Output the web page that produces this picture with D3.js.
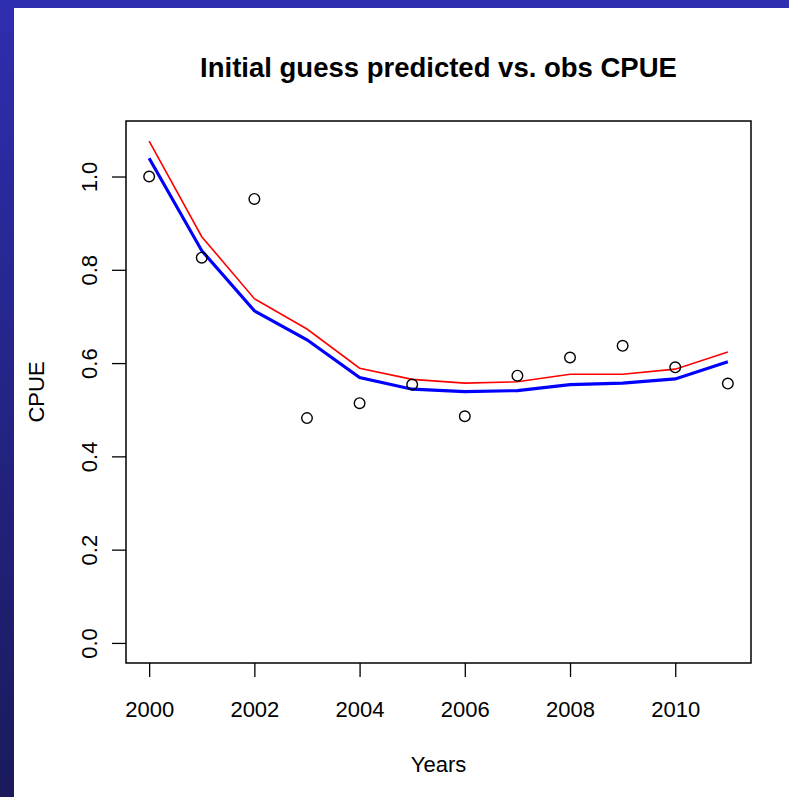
<!DOCTYPE html>
<html>
<head>
<meta charset="utf-8">
<script src="https://cdn.jsdelivr.net/npm/d3@7/dist/d3.min.js"></script>
<style>
  html, body { margin: 0; padding: 0; background: #fff; }
  svg { display: block; }
  text { font-family: "Liberation Sans", Arial, Helvetica, sans-serif; fill: #000; }
</style>
</head>
<body>
<svg id="chart" width="789" height="797"></svg>
<script>
// Observed and model-predicted CPUE by year
const years = [2000, 2001, 2002, 2003, 2004, 2005, 2006, 2007, 2008, 2009, 2010, 2011];
const observedCPUE = [1.000, 0.826, 0.952, 0.482, 0.514, 0.554, 0.486, 0.573, 0.612, 0.637, 0.591, 0.556];
const predictedBlue = [1.039, 0.841, 0.712, 0.650, 0.569, 0.544, 0.539, 0.541, 0.554, 0.557, 0.566, 0.603];
const predictedRed = [1.076, 0.871, 0.738, 0.673, 0.589, 0.565, 0.557, 0.560, 0.576, 0.576, 0.587, 0.624];
const xTicks = [2000, 2002, 2004, 2006, 2008, 2010];
const yTicks = [0.0, 0.2, 0.4, 0.6, 0.8, 1.0];

const W = 789, H = 797;
const svg = d3.select("#chart");

// Slide backdrop: blue gradient frame with a white panel
const defs = svg.append("defs");
const grad = defs.append("linearGradient").attr("id", "bg").attr("x1", 0).attr("y1", 0).attr("x2", 0).attr("y2", 1);
grad.append("stop").attr("offset", "0%").attr("stop-color", "#2e2eb0");
grad.append("stop").attr("offset", "100%").attr("stop-color", "#1a1a5c");
svg.append("rect").attr("width", W).attr("height", H).attr("fill", "url(#bg)");
svg.append("rect").attr("x", 14).attr("y", 8).attr("width", W - 14).attr("height", H - 8).attr("fill", "#fff");

// Plot region
const box = { left: 126, right: 751, top: 121, bottom: 663 };

// R-style 4% padding around the data range
const xMin = d3.min(years), xMax = d3.max(years);
const xPad = (xMax - xMin) * 0.04;
const yMin = 0, yMax = d3.max(predictedRed);
const yPad = (yMax - yMin) * 0.04;

const x = d3.scaleLinear().domain([xMin - xPad, xMax + xPad]).range([box.left, box.right]);
const y = d3.scaleLinear().domain([yMin - yPad, yMax + yPad]).range([box.bottom, box.top]);

// Axes
const xAxis = d3.axisBottom(x).tickValues(xTicks).tickFormat(d3.format("d")).tickSize(14);
const gx = svg.append("g").attr("transform", `translate(0,${box.bottom})`).call(xAxis);
gx.select(".domain").remove();
gx.selectAll("line").attr("stroke", "#000").attr("stroke-width", 1.3);
gx.selectAll("text").attr("font-size", 22).attr("fill", "#000").attr("y", 54).attr("dy", null);

const yAxis = d3.axisLeft(y).tickValues(yTicks).tickFormat(d3.format(".1f")).tickSize(14);
const gy = svg.append("g").attr("transform", `translate(${box.left},0)`).call(yAxis);
gy.select(".domain").remove();
gy.selectAll("line").attr("stroke", "#000").attr("stroke-width", 1.3);
gy.selectAll("text")
  .attr("font-size", 22)
  .attr("fill", "#000")
  .attr("x", null).attr("dy", null).attr("y", 0)
  .attr("text-anchor", "middle")
  .attr("transform", "translate(-29,0) rotate(-90)");

// Frame
svg.append("rect")
  .attr("x", box.left).attr("y", box.top)
  .attr("width", box.right - box.left).attr("height", box.bottom - box.top)
  .attr("fill", "none").attr("stroke", "#000").attr("stroke-width", 1.5);

// Lines
const lineGen = vals => d3.line().x((d, i) => x(years[i])).y(d => y(d))(vals);
svg.append("path").attr("d", lineGen(predictedRed)).attr("fill", "none").attr("stroke", "#ff0000").attr("stroke-width", 1.6);
svg.append("path").attr("d", lineGen(predictedBlue)).attr("fill", "none").attr("stroke", "#0000ff").attr("stroke-width", 3.2);

// Observed points
svg.append("g").selectAll("circle").data(observedCPUE).join("circle")
  .attr("cx", (d, i) => x(years[i])).attr("cy", d => y(d)).attr("r", 5.3)
  .attr("fill", "none").attr("stroke", "#000").attr("stroke-width", 1.4);

// Titles
svg.append("text").attr("x", (box.left + box.right) / 2).attr("y", 77)
  .attr("text-anchor", "middle").attr("font-size", 27.5).attr("font-weight", "bold")
  .text("Initial guess predicted vs. obs CPUE");
svg.append("text").attr("x", (box.left + box.right) / 2).attr("y", 772)
  .attr("text-anchor", "middle").attr("font-size", 22)
  .text("Years");
svg.append("text").attr("transform", `translate(44,${(box.top + box.bottom) / 2}) rotate(-90)`)
  .attr("text-anchor", "middle").attr("font-size", 22)
  .text("CPUE");
</script>
</body>
</html>
